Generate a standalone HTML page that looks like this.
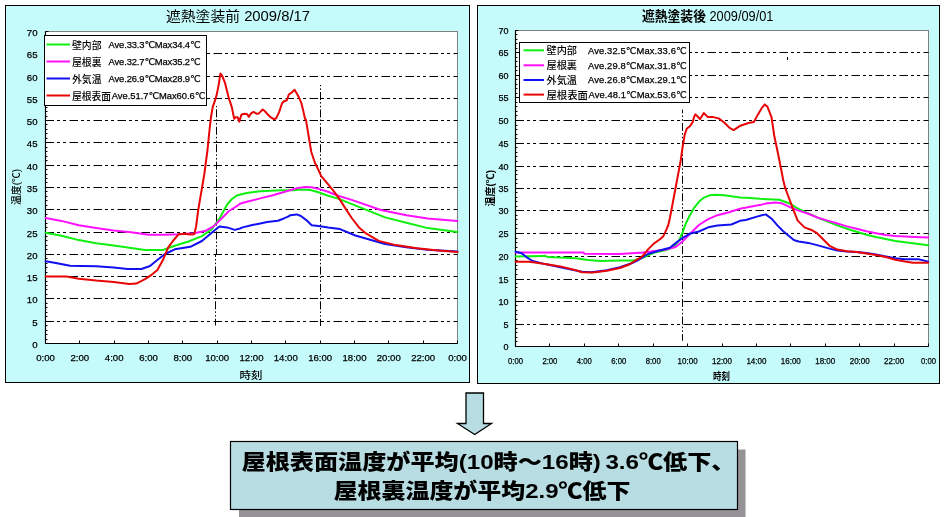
<!DOCTYPE html>
<html><head><meta charset="utf-8"><title>遮熱塗装 温度比較</title>
<style>
html,body{margin:0;padding:0;background:#fff;}
body{width:945px;height:517px;overflow:hidden;}
svg{display:block;font-family:'Liberation Sans','Noto Sans CJK JP',sans-serif;will-change:transform;}
.big{font-weight:900;}
.lg{font-weight:500;}
.ax{stroke:#000;stroke-width:0.25px;}
.lv{font-family:'Liberation Sans','DejaVu Sans','Noto Sans CJK JP',sans-serif;}
</style></head><body>
<svg width="945" height="517" viewBox="0 0 945 517">
<rect width="945" height="517" fill="#fff"/>
<rect x="5.5" y="5.5" width="464" height="377" fill="#C6FBFB" stroke="#000" stroke-width="1"/>
<rect x="45.5" y="31.5" width="412.0" height="312.0" fill="#fff" stroke="#808080" stroke-width="1"/>
<line x1="45.5" y1="321.5" x2="457.5" y2="321.5" stroke="#000" stroke-width="1" stroke-dasharray="8.5 3 3 3 3 3.5"/>
<line x1="45.5" y1="298.5" x2="457.5" y2="298.5" stroke="#000" stroke-width="1" stroke-dasharray="8.5 3 3 3 3 3.5"/>
<line x1="45.5" y1="276.5" x2="457.5" y2="276.5" stroke="#000" stroke-width="1" stroke-dasharray="8.5 3 3 3 3 3.5"/>
<line x1="45.5" y1="254.5" x2="457.5" y2="254.5" stroke="#000" stroke-width="1" stroke-dasharray="8.5 3 3 3 3 3.5"/>
<line x1="45.5" y1="232.5" x2="457.5" y2="232.5" stroke="#000" stroke-width="1" stroke-dasharray="8.5 3 3 3 3 3.5"/>
<line x1="45.5" y1="209.5" x2="457.5" y2="209.5" stroke="#000" stroke-width="1" stroke-dasharray="8.5 3 3 3 3 3.5"/>
<line x1="45.5" y1="187.5" x2="457.5" y2="187.5" stroke="#000" stroke-width="1" stroke-dasharray="8.5 3 3 3 3 3.5"/>
<line x1="45.5" y1="165.5" x2="457.5" y2="165.5" stroke="#000" stroke-width="1" stroke-dasharray="8.5 3 3 3 3 3.5"/>
<line x1="45.5" y1="142.5" x2="457.5" y2="142.5" stroke="#000" stroke-width="1" stroke-dasharray="8.5 3 3 3 3 3.5"/>
<line x1="45.5" y1="120.5" x2="457.5" y2="120.5" stroke="#000" stroke-width="1" stroke-dasharray="8.5 3 3 3 3 3.5"/>
<line x1="45.5" y1="98.5" x2="457.5" y2="98.5" stroke="#000" stroke-width="1" stroke-dasharray="8.5 3 3 3 3 3.5"/>
<line x1="45.5" y1="76.5" x2="457.5" y2="76.5" stroke="#000" stroke-width="1" stroke-dasharray="8.5 3 3 3 3 3.5"/>
<line x1="45.5" y1="53.5" x2="457.5" y2="53.5" stroke="#000" stroke-width="1" stroke-dasharray="8.5 3 3 3 3 3.5"/>
<line x1="216.5" y1="106" x2="216.5" y2="255" stroke="#000" stroke-width="1" stroke-dasharray="8 2.1 1.5 2.2 1.5 2.15" stroke-dashoffset="14.15"/>
<line x1="215.5" y1="255" x2="215.5" y2="325.5" stroke="#000" stroke-width="1" stroke-dasharray="8 2.1 1.5 2.2 1.5 2.15" stroke-dashoffset="163.15"/>
<line x1="320.5" y1="85" x2="320.5" y2="326" stroke="#000" stroke-width="1" stroke-dasharray="8 2.1 1.5 2.2 1.5 2.15" stroke-dashoffset="10.45"/>
<line x1="45.5" y1="31.5" x2="45.5" y2="343.5" stroke="#000" stroke-width="1.2"/>
<line x1="45.5" y1="343.5" x2="457.5" y2="343.5" stroke="#000" stroke-width="1.2"/>
<line x1="45.5" y1="343.5" x2="48.5" y2="343.5" stroke="#000" stroke-width="1"/>
<line x1="45.5" y1="339.5" x2="47.5" y2="339.5" stroke="#000" stroke-width="1"/>
<line x1="45.5" y1="334.5" x2="47.5" y2="334.5" stroke="#000" stroke-width="1"/>
<line x1="45.5" y1="330.5" x2="47.5" y2="330.5" stroke="#000" stroke-width="1"/>
<line x1="45.5" y1="325.5" x2="47.5" y2="325.5" stroke="#000" stroke-width="1"/>
<line x1="45.5" y1="321.5" x2="48.5" y2="321.5" stroke="#000" stroke-width="1"/>
<line x1="45.5" y1="316.5" x2="47.5" y2="316.5" stroke="#000" stroke-width="1"/>
<line x1="45.5" y1="312.5" x2="47.5" y2="312.5" stroke="#000" stroke-width="1"/>
<line x1="45.5" y1="307.5" x2="47.5" y2="307.5" stroke="#000" stroke-width="1"/>
<line x1="45.5" y1="303.5" x2="47.5" y2="303.5" stroke="#000" stroke-width="1"/>
<line x1="45.5" y1="298.5" x2="48.5" y2="298.5" stroke="#000" stroke-width="1"/>
<line x1="45.5" y1="294.5" x2="47.5" y2="294.5" stroke="#000" stroke-width="1"/>
<line x1="45.5" y1="289.5" x2="47.5" y2="289.5" stroke="#000" stroke-width="1"/>
<line x1="45.5" y1="285.5" x2="47.5" y2="285.5" stroke="#000" stroke-width="1"/>
<line x1="45.5" y1="281.5" x2="47.5" y2="281.5" stroke="#000" stroke-width="1"/>
<line x1="45.5" y1="276.5" x2="48.5" y2="276.5" stroke="#000" stroke-width="1"/>
<line x1="45.5" y1="272.5" x2="47.5" y2="272.5" stroke="#000" stroke-width="1"/>
<line x1="45.5" y1="267.5" x2="47.5" y2="267.5" stroke="#000" stroke-width="1"/>
<line x1="45.5" y1="263.5" x2="47.5" y2="263.5" stroke="#000" stroke-width="1"/>
<line x1="45.5" y1="258.5" x2="47.5" y2="258.5" stroke="#000" stroke-width="1"/>
<line x1="45.5" y1="254.5" x2="48.5" y2="254.5" stroke="#000" stroke-width="1"/>
<line x1="45.5" y1="249.5" x2="47.5" y2="249.5" stroke="#000" stroke-width="1"/>
<line x1="45.5" y1="245.5" x2="47.5" y2="245.5" stroke="#000" stroke-width="1"/>
<line x1="45.5" y1="240.5" x2="47.5" y2="240.5" stroke="#000" stroke-width="1"/>
<line x1="45.5" y1="236.5" x2="47.5" y2="236.5" stroke="#000" stroke-width="1"/>
<line x1="45.5" y1="232.5" x2="48.5" y2="232.5" stroke="#000" stroke-width="1"/>
<line x1="45.5" y1="227.5" x2="47.5" y2="227.5" stroke="#000" stroke-width="1"/>
<line x1="45.5" y1="223.5" x2="47.5" y2="223.5" stroke="#000" stroke-width="1"/>
<line x1="45.5" y1="218.5" x2="47.5" y2="218.5" stroke="#000" stroke-width="1"/>
<line x1="45.5" y1="214.5" x2="47.5" y2="214.5" stroke="#000" stroke-width="1"/>
<line x1="45.5" y1="209.5" x2="48.5" y2="209.5" stroke="#000" stroke-width="1"/>
<line x1="45.5" y1="205.5" x2="47.5" y2="205.5" stroke="#000" stroke-width="1"/>
<line x1="45.5" y1="200.5" x2="47.5" y2="200.5" stroke="#000" stroke-width="1"/>
<line x1="45.5" y1="196.5" x2="47.5" y2="196.5" stroke="#000" stroke-width="1"/>
<line x1="45.5" y1="191.5" x2="47.5" y2="191.5" stroke="#000" stroke-width="1"/>
<line x1="45.5" y1="187.5" x2="48.5" y2="187.5" stroke="#000" stroke-width="1"/>
<line x1="45.5" y1="182.5" x2="47.5" y2="182.5" stroke="#000" stroke-width="1"/>
<line x1="45.5" y1="178.5" x2="47.5" y2="178.5" stroke="#000" stroke-width="1"/>
<line x1="45.5" y1="174.5" x2="47.5" y2="174.5" stroke="#000" stroke-width="1"/>
<line x1="45.5" y1="169.5" x2="47.5" y2="169.5" stroke="#000" stroke-width="1"/>
<line x1="45.5" y1="165.5" x2="48.5" y2="165.5" stroke="#000" stroke-width="1"/>
<line x1="45.5" y1="160.5" x2="47.5" y2="160.5" stroke="#000" stroke-width="1"/>
<line x1="45.5" y1="156.5" x2="47.5" y2="156.5" stroke="#000" stroke-width="1"/>
<line x1="45.5" y1="151.5" x2="47.5" y2="151.5" stroke="#000" stroke-width="1"/>
<line x1="45.5" y1="147.5" x2="47.5" y2="147.5" stroke="#000" stroke-width="1"/>
<line x1="45.5" y1="142.5" x2="48.5" y2="142.5" stroke="#000" stroke-width="1"/>
<line x1="45.5" y1="138.5" x2="47.5" y2="138.5" stroke="#000" stroke-width="1"/>
<line x1="45.5" y1="133.5" x2="47.5" y2="133.5" stroke="#000" stroke-width="1"/>
<line x1="45.5" y1="129.5" x2="47.5" y2="129.5" stroke="#000" stroke-width="1"/>
<line x1="45.5" y1="124.5" x2="47.5" y2="124.5" stroke="#000" stroke-width="1"/>
<line x1="45.5" y1="120.5" x2="48.5" y2="120.5" stroke="#000" stroke-width="1"/>
<line x1="45.5" y1="116.5" x2="47.5" y2="116.5" stroke="#000" stroke-width="1"/>
<line x1="45.5" y1="111.5" x2="47.5" y2="111.5" stroke="#000" stroke-width="1"/>
<line x1="45.5" y1="107.5" x2="47.5" y2="107.5" stroke="#000" stroke-width="1"/>
<line x1="45.5" y1="102.5" x2="47.5" y2="102.5" stroke="#000" stroke-width="1"/>
<line x1="45.5" y1="98.5" x2="48.5" y2="98.5" stroke="#000" stroke-width="1"/>
<line x1="45.5" y1="93.5" x2="47.5" y2="93.5" stroke="#000" stroke-width="1"/>
<line x1="45.5" y1="89.5" x2="47.5" y2="89.5" stroke="#000" stroke-width="1"/>
<line x1="45.5" y1="84.5" x2="47.5" y2="84.5" stroke="#000" stroke-width="1"/>
<line x1="45.5" y1="80.5" x2="47.5" y2="80.5" stroke="#000" stroke-width="1"/>
<line x1="45.5" y1="76.5" x2="48.5" y2="76.5" stroke="#000" stroke-width="1"/>
<line x1="45.5" y1="71.5" x2="47.5" y2="71.5" stroke="#000" stroke-width="1"/>
<line x1="45.5" y1="66.5" x2="47.5" y2="66.5" stroke="#000" stroke-width="1"/>
<line x1="45.5" y1="62.5" x2="47.5" y2="62.5" stroke="#000" stroke-width="1"/>
<line x1="45.5" y1="58.5" x2="47.5" y2="58.5" stroke="#000" stroke-width="1"/>
<line x1="45.5" y1="53.5" x2="48.5" y2="53.5" stroke="#000" stroke-width="1"/>
<line x1="45.5" y1="49.5" x2="47.5" y2="49.5" stroke="#000" stroke-width="1"/>
<line x1="45.5" y1="44.5" x2="47.5" y2="44.5" stroke="#000" stroke-width="1"/>
<line x1="45.5" y1="40.5" x2="47.5" y2="40.5" stroke="#000" stroke-width="1"/>
<line x1="45.5" y1="35.5" x2="47.5" y2="35.5" stroke="#000" stroke-width="1"/>
<line x1="45.5" y1="31.5" x2="48.5" y2="31.5" stroke="#000" stroke-width="1"/>
<line x1="45.5" y1="343.5" x2="45.5" y2="340.5" stroke="#000" stroke-width="1"/>
<line x1="79.5" y1="343.5" x2="79.5" y2="340.5" stroke="#000" stroke-width="1"/>
<line x1="114.5" y1="343.5" x2="114.5" y2="340.5" stroke="#000" stroke-width="1"/>
<line x1="148.5" y1="343.5" x2="148.5" y2="340.5" stroke="#000" stroke-width="1"/>
<line x1="182.5" y1="343.5" x2="182.5" y2="340.5" stroke="#000" stroke-width="1"/>
<line x1="217.5" y1="343.5" x2="217.5" y2="340.5" stroke="#000" stroke-width="1"/>
<line x1="251.5" y1="343.5" x2="251.5" y2="340.5" stroke="#000" stroke-width="1"/>
<line x1="285.5" y1="343.5" x2="285.5" y2="340.5" stroke="#000" stroke-width="1"/>
<line x1="320.5" y1="343.5" x2="320.5" y2="340.5" stroke="#000" stroke-width="1"/>
<line x1="354.5" y1="343.5" x2="354.5" y2="340.5" stroke="#000" stroke-width="1"/>
<line x1="388.5" y1="343.5" x2="388.5" y2="340.5" stroke="#000" stroke-width="1"/>
<line x1="423.5" y1="343.5" x2="423.5" y2="340.5" stroke="#000" stroke-width="1"/>
<line x1="457.5" y1="343.5" x2="457.5" y2="340.5" stroke="#000" stroke-width="1"/>
<polyline points="45.7,232.7 61.4,235.7 78.8,240.1 96.2,243.2 113.7,245.6 131.1,247.9 145.0,250.0 163.2,249.9 174.8,245.8 188.4,241.5 201.9,236.1 211.6,229.4 219.4,218.7 227.1,204.5 232.0,199.0 236.8,195.5 246.6,193.0 260.3,191.3 280.6,190.3 294.1,190.3 300.9,189.4 310.4,190.0 318.5,192.3 328.0,195.7 337.4,198.4 342.6,200.4 363.8,208.9 385.1,217.4 406.4,222.8 427.7,228.1 457.4,231.9" fill="none" stroke="#10F010" stroke-width="2" stroke-linejoin="round" stroke-linecap="round"/>
<polyline points="45.7,217.9 61.4,220.9 78.8,225.3 96.2,227.9 113.7,230.5 131.1,232.2 148.5,234.8 164.0,234.8 178.7,234.2 194.2,233.2 205.8,230.7 213.5,226.4 221.3,218.7 229.0,211.0 236.8,206.1 240.0,203.8 246.8,201.8 260.3,198.4 273.8,195.0 287.4,191.0 298.2,187.9 305.0,186.9 311.7,187.3 318.5,188.9 328.0,191.7 337.4,195.5 353.2,200.4 380.9,210.0 406.4,215.3 427.7,218.5 457.4,221.1" fill="none" stroke="#FF10FF" stroke-width="2" stroke-linejoin="round" stroke-linecap="round"/>
<polyline points="45.7,261.3 54.4,262.7 70.1,265.8 96.2,266.2 113.7,267.6 127.6,269.0 141.5,269.0 150.0,266.0 157.3,260.0 165.0,254.0 174.8,249.3 190.3,246.8 201.9,241.0 213.5,231.3 219.4,226.4 227.1,227.4 234.8,229.9 240.0,228.5 242.6,227.4 252.3,225.0 260.3,223.5 267.1,222.1 277.9,220.7 283.3,218.7 288.0,216.7 290.1,215.3 296.8,214.4 300.9,216.0 306.3,220.1 311.7,225.2 318.5,225.9 328.0,227.5 340.0,229.1 355.3,235.5 370.2,239.8 385.1,244.0 406.4,247.2 427.7,249.8 457.4,251.5" fill="none" stroke="#1010F0" stroke-width="2" stroke-linejoin="round" stroke-linecap="round"/>
<polyline points="45.7,276.6 66.6,276.6 78.8,278.7 96.2,280.5 113.7,281.9 129.3,283.9 136.3,283.6 145.0,279.2 151.6,274.8 157.4,270.0 163.2,259.4 168.1,247.7 172.9,241.0 178.7,234.2 184.5,233.8 190.3,234.6 194.2,234.2 196.1,226.4 198.1,211.0 200.0,199.4 201.9,188.5 204.4,173.7 207.5,150.0 209.5,130.0 211.0,117.0 212.8,106.6 214.8,101.2 216.8,94.4 218.9,83.6 220.4,73.5 222.3,76.1 225.0,82.9 228.9,98.4 231.8,107.1 234.2,118.7 235.6,117.2 237.6,117.2 239.3,121.6 241.4,114.8 244.3,113.8 247.2,114.3 248.7,116.8 251.1,113.4 253.5,111.9 256.9,113.8 258.8,113.4 262.7,109.5 264.7,111.0 267.6,114.3 270.5,117.2 273.8,119.2 276.3,118.2 279.2,111.9 282.1,103.2 284.0,101.3 286.9,100.3 288.8,94.5 291.7,92.6 294.6,89.7 298.5,96.4 301.4,103.2 303.3,111.0 305.0,118.7 305.9,119.6 308.6,135.8 311.3,152.0 315.0,163.0 318.5,170.0 321.2,176.1 328.0,184.2 334.7,192.3 340.4,200.4 345.7,208.9 352.1,218.5 359.6,228.1 366.0,233.4 378.7,240.9 395.7,245.1 417.0,248.3 438.3,250.4 457.4,251.9" fill="none" stroke="#E80505" stroke-width="2" stroke-linejoin="round" stroke-linecap="round"/>
<text x="37.5" y="347.9" text-anchor="end" font-size="9.6" class="ax">0</text>
<text x="37.5" y="325.9" text-anchor="end" font-size="9.6" class="ax">5</text>
<text x="37.5" y="302.9" text-anchor="end" font-size="9.6" class="ax">10</text>
<text x="37.5" y="280.9" text-anchor="end" font-size="9.6" class="ax">15</text>
<text x="37.5" y="258.9" text-anchor="end" font-size="9.6" class="ax">20</text>
<text x="37.5" y="236.9" text-anchor="end" font-size="9.6" class="ax">25</text>
<text x="37.5" y="213.9" text-anchor="end" font-size="9.6" class="ax">30</text>
<text x="37.5" y="191.9" text-anchor="end" font-size="9.6" class="ax">35</text>
<text x="37.5" y="169.9" text-anchor="end" font-size="9.6" class="ax">40</text>
<text x="37.5" y="146.9" text-anchor="end" font-size="9.6" class="ax">45</text>
<text x="37.5" y="124.9" text-anchor="end" font-size="9.6" class="ax">50</text>
<text x="37.5" y="102.9" text-anchor="end" font-size="9.6" class="ax">55</text>
<text x="37.5" y="80.9" text-anchor="end" font-size="9.6" class="ax">60</text>
<text x="37.5" y="57.9" text-anchor="end" font-size="9.6" class="ax">65</text>
<text x="37.5" y="35.9" text-anchor="end" font-size="9.6" class="ax">70</text>
<text x="45.5" y="360.7" text-anchor="middle" font-size="9.6" class="ax">0:00</text>
<text x="79.8" y="360.7" text-anchor="middle" font-size="9.6" class="ax">2:00</text>
<text x="114.2" y="360.7" text-anchor="middle" font-size="9.6" class="ax">4:00</text>
<text x="148.5" y="360.7" text-anchor="middle" font-size="9.6" class="ax">6:00</text>
<text x="182.8" y="360.7" text-anchor="middle" font-size="9.6" class="ax">8:00</text>
<text x="217.2" y="360.7" text-anchor="middle" font-size="9.6" class="ax">10:00</text>
<text x="251.5" y="360.7" text-anchor="middle" font-size="9.6" class="ax">12:00</text>
<text x="285.8" y="360.7" text-anchor="middle" font-size="9.6" class="ax">14:00</text>
<text x="320.2" y="360.7" text-anchor="middle" font-size="9.6" class="ax">16:00</text>
<text x="354.5" y="360.7" text-anchor="middle" font-size="9.6" class="ax">18:00</text>
<text x="388.8" y="360.7" text-anchor="middle" font-size="9.6" class="ax">20:00</text>
<text x="423.2" y="360.7" text-anchor="middle" font-size="9.6" class="ax">22:00</text>
<text x="457.5" y="360.7" text-anchor="middle" font-size="9.6" class="ax">0:00</text>
<text x="166" y="20.5" font-size="14" font-weight="400" textLength="144" lengthAdjust="spacingAndGlyphs">遮熱塗装前 2009/8/17</text>
<text x="239.5" y="379" font-size="10" font-weight="500" textLength="23" lengthAdjust="spacingAndGlyphs">時刻</text>
<text transform="translate(20,205) rotate(-90)" font-size="10" font-weight="500" textLength="36" lengthAdjust="spacingAndGlyphs">温度(℃)</text>
<rect x="44.5" y="35.5" width="162" height="70" fill="#fff" stroke="#000" stroke-width="1"/>
<line x1="46.5" y1="44.5" x2="70" y2="44.5" stroke="#10F010" stroke-width="2"/>
<text x="72" y="48.5" font-size="10" font-weight="500" textLength="29.5" lengthAdjust="spacingAndGlyphs">壁内部</text>
<text x="108.5" y="47.9" font-size="9.4" class="ax lv" textLength="92" lengthAdjust="spacing">Ave.33.3℃Max34.4℃</text>
<line x1="46.5" y1="61.5" x2="70" y2="61.5" stroke="#FF10FF" stroke-width="2"/>
<text x="72" y="65.5" font-size="10" font-weight="500" textLength="29.5" lengthAdjust="spacingAndGlyphs">屋根裏</text>
<text x="108.5" y="64.9" font-size="9.4" class="ax lv" textLength="92" lengthAdjust="spacing">Ave.32.7℃Max35.2℃</text>
<line x1="46.5" y1="78.5" x2="70" y2="78.5" stroke="#1010F0" stroke-width="2"/>
<text x="72" y="82.5" font-size="10" font-weight="500" textLength="29.5" lengthAdjust="spacingAndGlyphs">外気温</text>
<text x="108.5" y="81.9" font-size="9.4" class="ax lv" textLength="92" lengthAdjust="spacing">Ave.26.9℃Max28.9℃</text>
<line x1="46.5" y1="95.5" x2="70" y2="95.5" stroke="#E80505" stroke-width="2"/>
<text x="72" y="99.5" font-size="10" font-weight="500" textLength="39" lengthAdjust="spacingAndGlyphs">屋根表面</text>
<text x="111.8" y="98.9" font-size="9.4" class="ax lv" textLength="93.5" lengthAdjust="spacing">Ave.51.7℃Max60.6℃</text>
<rect x="477.5" y="5.5" width="462" height="378" fill="#C6FBFB" stroke="#000" stroke-width="1"/>
<rect x="515.5" y="30.5" width="413.0" height="316.0" fill="#fff" stroke="#808080" stroke-width="1"/>
<line x1="515.5" y1="324.5" x2="928.5" y2="324.5" stroke="#000" stroke-width="1" stroke-dasharray="8.5 3 3 3 3 3.5"/>
<line x1="515.5" y1="301.5" x2="928.5" y2="301.5" stroke="#000" stroke-width="1" stroke-dasharray="8.5 3 3 3 3 3.5"/>
<line x1="515.5" y1="279.5" x2="928.5" y2="279.5" stroke="#000" stroke-width="1" stroke-dasharray="8.5 3 3 3 3 3.5"/>
<line x1="515.5" y1="256.5" x2="928.5" y2="256.5" stroke="#000" stroke-width="1" stroke-dasharray="8.5 3 3 3 3 3.5"/>
<line x1="515.5" y1="233.5" x2="928.5" y2="233.5" stroke="#000" stroke-width="1" stroke-dasharray="8.5 3 3 3 3 3.5"/>
<line x1="515.5" y1="210.5" x2="928.5" y2="210.5" stroke="#000" stroke-width="1" stroke-dasharray="8.5 3 3 3 3 3.5"/>
<line x1="515.5" y1="188.5" x2="928.5" y2="188.5" stroke="#000" stroke-width="1" stroke-dasharray="8.5 3 3 3 3 3.5"/>
<line x1="515.5" y1="166.5" x2="928.5" y2="166.5" stroke="#000" stroke-width="1" stroke-dasharray="8.5 3 3 3 3 3.5"/>
<line x1="515.5" y1="143.5" x2="928.5" y2="143.5" stroke="#000" stroke-width="1" stroke-dasharray="8.5 3 3 3 3 3.5"/>
<line x1="515.5" y1="120.5" x2="928.5" y2="120.5" stroke="#000" stroke-width="1" stroke-dasharray="8.5 3 3 3 3 3.5"/>
<line x1="515.5" y1="97.5" x2="928.5" y2="97.5" stroke="#000" stroke-width="1" stroke-dasharray="8.5 3 3 3 3 3.5"/>
<line x1="515.5" y1="75.5" x2="928.5" y2="75.5" stroke="#000" stroke-width="1" stroke-dasharray="8.5 3 3 3 3 3.5"/>
<line x1="515.5" y1="52.5" x2="928.5" y2="52.5" stroke="#000" stroke-width="1" stroke-dasharray="8.5 3 3 3 3 3.5"/>
<line x1="682.5" y1="109.7" x2="682.5" y2="340.7" stroke="#000" stroke-width="1" stroke-dasharray="8 2.2 1.5 2.2 1.5 2.2" stroke-dashoffset="4.4"/>
<line x1="515.5" y1="30.5" x2="515.5" y2="346.5" stroke="#000" stroke-width="1.2"/>
<line x1="515.5" y1="346.5" x2="928.5" y2="346.5" stroke="#000" stroke-width="1.2"/>
<line x1="515.5" y1="346.5" x2="518.5" y2="346.5" stroke="#000" stroke-width="1"/>
<line x1="515.5" y1="341.5" x2="517.5" y2="341.5" stroke="#000" stroke-width="1"/>
<line x1="515.5" y1="337.5" x2="517.5" y2="337.5" stroke="#000" stroke-width="1"/>
<line x1="515.5" y1="332.5" x2="517.5" y2="332.5" stroke="#000" stroke-width="1"/>
<line x1="515.5" y1="328.5" x2="517.5" y2="328.5" stroke="#000" stroke-width="1"/>
<line x1="515.5" y1="324.5" x2="518.5" y2="324.5" stroke="#000" stroke-width="1"/>
<line x1="515.5" y1="319.5" x2="517.5" y2="319.5" stroke="#000" stroke-width="1"/>
<line x1="515.5" y1="314.5" x2="517.5" y2="314.5" stroke="#000" stroke-width="1"/>
<line x1="515.5" y1="310.5" x2="517.5" y2="310.5" stroke="#000" stroke-width="1"/>
<line x1="515.5" y1="305.5" x2="517.5" y2="305.5" stroke="#000" stroke-width="1"/>
<line x1="515.5" y1="301.5" x2="518.5" y2="301.5" stroke="#000" stroke-width="1"/>
<line x1="515.5" y1="296.5" x2="517.5" y2="296.5" stroke="#000" stroke-width="1"/>
<line x1="515.5" y1="292.5" x2="517.5" y2="292.5" stroke="#000" stroke-width="1"/>
<line x1="515.5" y1="287.5" x2="517.5" y2="287.5" stroke="#000" stroke-width="1"/>
<line x1="515.5" y1="283.5" x2="517.5" y2="283.5" stroke="#000" stroke-width="1"/>
<line x1="515.5" y1="279.5" x2="518.5" y2="279.5" stroke="#000" stroke-width="1"/>
<line x1="515.5" y1="274.5" x2="517.5" y2="274.5" stroke="#000" stroke-width="1"/>
<line x1="515.5" y1="269.5" x2="517.5" y2="269.5" stroke="#000" stroke-width="1"/>
<line x1="515.5" y1="265.5" x2="517.5" y2="265.5" stroke="#000" stroke-width="1"/>
<line x1="515.5" y1="260.5" x2="517.5" y2="260.5" stroke="#000" stroke-width="1"/>
<line x1="515.5" y1="256.5" x2="518.5" y2="256.5" stroke="#000" stroke-width="1"/>
<line x1="515.5" y1="251.5" x2="517.5" y2="251.5" stroke="#000" stroke-width="1"/>
<line x1="515.5" y1="247.5" x2="517.5" y2="247.5" stroke="#000" stroke-width="1"/>
<line x1="515.5" y1="242.5" x2="517.5" y2="242.5" stroke="#000" stroke-width="1"/>
<line x1="515.5" y1="238.5" x2="517.5" y2="238.5" stroke="#000" stroke-width="1"/>
<line x1="515.5" y1="233.5" x2="518.5" y2="233.5" stroke="#000" stroke-width="1"/>
<line x1="515.5" y1="228.5" x2="517.5" y2="228.5" stroke="#000" stroke-width="1"/>
<line x1="515.5" y1="224.5" x2="517.5" y2="224.5" stroke="#000" stroke-width="1"/>
<line x1="515.5" y1="219.5" x2="517.5" y2="219.5" stroke="#000" stroke-width="1"/>
<line x1="515.5" y1="215.5" x2="517.5" y2="215.5" stroke="#000" stroke-width="1"/>
<line x1="515.5" y1="210.5" x2="518.5" y2="210.5" stroke="#000" stroke-width="1"/>
<line x1="515.5" y1="206.5" x2="517.5" y2="206.5" stroke="#000" stroke-width="1"/>
<line x1="515.5" y1="201.5" x2="517.5" y2="201.5" stroke="#000" stroke-width="1"/>
<line x1="515.5" y1="197.5" x2="517.5" y2="197.5" stroke="#000" stroke-width="1"/>
<line x1="515.5" y1="192.5" x2="517.5" y2="192.5" stroke="#000" stroke-width="1"/>
<line x1="515.5" y1="188.5" x2="518.5" y2="188.5" stroke="#000" stroke-width="1"/>
<line x1="515.5" y1="183.5" x2="517.5" y2="183.5" stroke="#000" stroke-width="1"/>
<line x1="515.5" y1="179.5" x2="517.5" y2="179.5" stroke="#000" stroke-width="1"/>
<line x1="515.5" y1="174.5" x2="517.5" y2="174.5" stroke="#000" stroke-width="1"/>
<line x1="515.5" y1="170.5" x2="517.5" y2="170.5" stroke="#000" stroke-width="1"/>
<line x1="515.5" y1="166.5" x2="518.5" y2="166.5" stroke="#000" stroke-width="1"/>
<line x1="515.5" y1="161.5" x2="517.5" y2="161.5" stroke="#000" stroke-width="1"/>
<line x1="515.5" y1="156.5" x2="517.5" y2="156.5" stroke="#000" stroke-width="1"/>
<line x1="515.5" y1="152.5" x2="517.5" y2="152.5" stroke="#000" stroke-width="1"/>
<line x1="515.5" y1="147.5" x2="517.5" y2="147.5" stroke="#000" stroke-width="1"/>
<line x1="515.5" y1="143.5" x2="518.5" y2="143.5" stroke="#000" stroke-width="1"/>
<line x1="515.5" y1="138.5" x2="517.5" y2="138.5" stroke="#000" stroke-width="1"/>
<line x1="515.5" y1="134.5" x2="517.5" y2="134.5" stroke="#000" stroke-width="1"/>
<line x1="515.5" y1="129.5" x2="517.5" y2="129.5" stroke="#000" stroke-width="1"/>
<line x1="515.5" y1="125.5" x2="517.5" y2="125.5" stroke="#000" stroke-width="1"/>
<line x1="515.5" y1="120.5" x2="518.5" y2="120.5" stroke="#000" stroke-width="1"/>
<line x1="515.5" y1="115.5" x2="517.5" y2="115.5" stroke="#000" stroke-width="1"/>
<line x1="515.5" y1="111.5" x2="517.5" y2="111.5" stroke="#000" stroke-width="1"/>
<line x1="515.5" y1="106.5" x2="517.5" y2="106.5" stroke="#000" stroke-width="1"/>
<line x1="515.5" y1="102.5" x2="517.5" y2="102.5" stroke="#000" stroke-width="1"/>
<line x1="515.5" y1="97.5" x2="518.5" y2="97.5" stroke="#000" stroke-width="1"/>
<line x1="515.5" y1="93.5" x2="517.5" y2="93.5" stroke="#000" stroke-width="1"/>
<line x1="515.5" y1="88.5" x2="517.5" y2="88.5" stroke="#000" stroke-width="1"/>
<line x1="515.5" y1="84.5" x2="517.5" y2="84.5" stroke="#000" stroke-width="1"/>
<line x1="515.5" y1="79.5" x2="517.5" y2="79.5" stroke="#000" stroke-width="1"/>
<line x1="515.5" y1="75.5" x2="518.5" y2="75.5" stroke="#000" stroke-width="1"/>
<line x1="515.5" y1="70.5" x2="517.5" y2="70.5" stroke="#000" stroke-width="1"/>
<line x1="515.5" y1="66.5" x2="517.5" y2="66.5" stroke="#000" stroke-width="1"/>
<line x1="515.5" y1="61.5" x2="517.5" y2="61.5" stroke="#000" stroke-width="1"/>
<line x1="515.5" y1="57.5" x2="517.5" y2="57.5" stroke="#000" stroke-width="1"/>
<line x1="515.5" y1="52.5" x2="518.5" y2="52.5" stroke="#000" stroke-width="1"/>
<line x1="515.5" y1="48.5" x2="517.5" y2="48.5" stroke="#000" stroke-width="1"/>
<line x1="515.5" y1="43.5" x2="517.5" y2="43.5" stroke="#000" stroke-width="1"/>
<line x1="515.5" y1="39.5" x2="517.5" y2="39.5" stroke="#000" stroke-width="1"/>
<line x1="515.5" y1="34.5" x2="517.5" y2="34.5" stroke="#000" stroke-width="1"/>
<line x1="515.5" y1="30.5" x2="518.5" y2="30.5" stroke="#000" stroke-width="1"/>
<line x1="515.5" y1="346.5" x2="515.5" y2="343.5" stroke="#000" stroke-width="1"/>
<line x1="549.5" y1="346.5" x2="549.5" y2="343.5" stroke="#000" stroke-width="1"/>
<line x1="584.5" y1="346.5" x2="584.5" y2="343.5" stroke="#000" stroke-width="1"/>
<line x1="618.5" y1="346.5" x2="618.5" y2="343.5" stroke="#000" stroke-width="1"/>
<line x1="653.5" y1="346.5" x2="653.5" y2="343.5" stroke="#000" stroke-width="1"/>
<line x1="687.5" y1="346.5" x2="687.5" y2="343.5" stroke="#000" stroke-width="1"/>
<line x1="722.5" y1="346.5" x2="722.5" y2="343.5" stroke="#000" stroke-width="1"/>
<line x1="756.5" y1="346.5" x2="756.5" y2="343.5" stroke="#000" stroke-width="1"/>
<line x1="790.5" y1="346.5" x2="790.5" y2="343.5" stroke="#000" stroke-width="1"/>
<line x1="825.5" y1="346.5" x2="825.5" y2="343.5" stroke="#000" stroke-width="1"/>
<line x1="859.5" y1="346.5" x2="859.5" y2="343.5" stroke="#000" stroke-width="1"/>
<line x1="894.5" y1="346.5" x2="894.5" y2="343.5" stroke="#000" stroke-width="1"/>
<line x1="928.5" y1="346.5" x2="928.5" y2="343.5" stroke="#000" stroke-width="1"/>
<polyline points="515.7,256.6 545.0,255.9 548.0,257.1 575.9,258.2 588.2,259.9 600.6,261.0 620.0,260.5 633.9,260.5 643.2,257.5 654.8,252.4 666.4,250.1 673.4,247.0 679.2,240.1 682.7,232.0 686.2,222.7 689.6,215.7 694.3,207.6 698.9,201.8 703.6,197.8 709.4,195.3 715.2,194.8 724.5,195.3 740.0,197.6 745.8,197.8 760.0,198.8 779.3,199.7 789.0,203.2 798.7,209.0 808.3,213.3 818.0,217.7 827.7,221.6 837.4,225.4 847.0,228.7 856.7,231.8 866.4,234.7 876.0,237.0 885.7,239.0 895.4,240.9 905.0,242.3 914.7,243.4 928.2,245.2" fill="none" stroke="#10F010" stroke-width="2" stroke-linejoin="round" stroke-linecap="round"/>
<polyline points="515.7,252.5 583.6,252.5 584.4,253.7 620.0,254.0 643.2,252.4 666.4,249.4 675.7,247.0 682.7,241.2 689.6,234.3 698.9,225.0 708.2,219.2 717.5,215.2 729.1,212.2 740.0,208.7 759.4,205.1 760.0,205.1 765.8,203.6 775.5,202.6 781.3,203.2 789.0,206.7 798.7,210.6 808.3,213.8 818.0,217.7 827.7,220.6 837.4,223.5 847.0,226.4 856.7,228.7 866.4,231.2 876.0,233.2 885.7,235.1 895.4,236.1 914.7,237.0 928.2,237.6" fill="none" stroke="#FF10FF" stroke-width="2" stroke-linejoin="round" stroke-linecap="round"/>
<polyline points="515.7,251.7 521.7,253.2 526.4,257.1 532.6,261.0 545.0,264.1 560.4,267.2 582.0,271.8 591.3,272.3 606.8,270.3 620.0,267.2 631.6,263.3 638.6,259.8 647.9,254.0 659.5,250.5 669.9,247.7 675.7,243.1 682.7,237.8 689.6,233.8 698.9,231.5 708.2,227.3 717.5,225.5 731.4,224.5 740.0,220.8 745.8,220.0 759.4,215.9 760.0,215.8 765.8,214.4 771.6,218.7 777.4,225.4 783.2,231.2 789.0,236.1 793.8,240.0 798.7,241.5 808.3,242.9 818.0,245.4 827.7,248.1 837.4,250.6 847.0,251.6 856.7,251.9 866.4,253.1 876.0,254.5 885.7,256.4 895.4,258.3 905.0,259.3 918.6,259.3 928.2,261.6" fill="none" stroke="#1010F0" stroke-width="2" stroke-linejoin="round" stroke-linecap="round"/>
<polyline points="515.7,261.8 529.5,261.8 545.0,264.1 560.4,266.4 575.9,270.3 582.0,272.3 592.9,272.6 606.8,270.7 620.0,268.0 629.3,264.5 638.6,258.7 641.0,257.5 644.5,254.0 648.0,249.4 653.8,243.6 659.6,239.5 663.1,236.6 664.8,233.1 666.6,229.1 668.3,225.0 669.9,218.0 673.4,199.5 676.9,180.9 680.8,160.0 682.6,147.0 684.7,134.8 686.7,128.7 690.1,126.0 692.8,121.9 694.2,116.5 695.5,114.4 697.6,116.5 700.0,119.2 703.8,113.0 707.9,117.1 713.3,117.1 718.7,118.4 724.2,122.5 729.6,127.9 733.6,130.1 740.4,125.7 748.5,123.0 753.9,122.0 758.0,114.4 762.1,107.6 764.8,104.4 767.5,106.8 771.5,117.1 774.3,136.0 778.3,155.0 781.0,168.5 783.2,180.0 785.1,187.7 788.0,195.5 790.9,203.2 793.8,210.9 797.7,220.6 804.5,227.4 812.2,230.3 817.0,233.2 823.8,240.0 829.6,245.8 837.4,249.6 847.0,251.2 856.7,251.9 866.4,253.5 876.0,255.0 885.7,257.0 895.4,259.7 905.0,261.6 912.8,262.8 928.2,262.8" fill="none" stroke="#E80505" stroke-width="2" stroke-linejoin="round" stroke-linecap="round"/>
<text x="508.5" y="349.9" text-anchor="end" font-size="9" class="ax">0</text>
<text x="508.5" y="327.9" text-anchor="end" font-size="9" class="ax">5</text>
<text x="508.5" y="304.9" text-anchor="end" font-size="9" class="ax">10</text>
<text x="508.5" y="282.9" text-anchor="end" font-size="9" class="ax">15</text>
<text x="508.5" y="259.9" text-anchor="end" font-size="9" class="ax">20</text>
<text x="508.5" y="236.9" text-anchor="end" font-size="9" class="ax">25</text>
<text x="508.5" y="213.9" text-anchor="end" font-size="9" class="ax">30</text>
<text x="508.5" y="191.9" text-anchor="end" font-size="9" class="ax">35</text>
<text x="508.5" y="169.9" text-anchor="end" font-size="9" class="ax">40</text>
<text x="508.5" y="146.9" text-anchor="end" font-size="9" class="ax">45</text>
<text x="508.5" y="123.9" text-anchor="end" font-size="9" class="ax">50</text>
<text x="508.5" y="100.9" text-anchor="end" font-size="9" class="ax">55</text>
<text x="508.5" y="78.9" text-anchor="end" font-size="9" class="ax">60</text>
<text x="508.5" y="55.9" text-anchor="end" font-size="9" class="ax">65</text>
<text x="508.5" y="33.9" text-anchor="end" font-size="9" class="ax">70</text>
<text x="515.5" y="364" text-anchor="middle" font-size="8.8" class="ax" textLength="15" lengthAdjust="spacingAndGlyphs">0:00</text>
<text x="549.9" y="364" text-anchor="middle" font-size="8.8" class="ax" textLength="15" lengthAdjust="spacingAndGlyphs">2:00</text>
<text x="584.3" y="364" text-anchor="middle" font-size="8.8" class="ax" textLength="15" lengthAdjust="spacingAndGlyphs">4:00</text>
<text x="618.8" y="364" text-anchor="middle" font-size="8.8" class="ax" textLength="15" lengthAdjust="spacingAndGlyphs">6:00</text>
<text x="653.2" y="364" text-anchor="middle" font-size="8.8" class="ax" textLength="15" lengthAdjust="spacingAndGlyphs">8:00</text>
<text x="687.6" y="364" text-anchor="middle" font-size="8.8" class="ax" textLength="20" lengthAdjust="spacingAndGlyphs">10:00</text>
<text x="722.0" y="364" text-anchor="middle" font-size="8.8" class="ax" textLength="20" lengthAdjust="spacingAndGlyphs">12:00</text>
<text x="756.4" y="364" text-anchor="middle" font-size="8.8" class="ax" textLength="20" lengthAdjust="spacingAndGlyphs">14:00</text>
<text x="790.8" y="364" text-anchor="middle" font-size="8.8" class="ax" textLength="20" lengthAdjust="spacingAndGlyphs">16:00</text>
<text x="825.2" y="364" text-anchor="middle" font-size="8.8" class="ax" textLength="20" lengthAdjust="spacingAndGlyphs">18:00</text>
<text x="859.7" y="364" text-anchor="middle" font-size="8.8" class="ax" textLength="20" lengthAdjust="spacingAndGlyphs">20:00</text>
<text x="894.1" y="364" text-anchor="middle" font-size="8.8" class="ax" textLength="20" lengthAdjust="spacingAndGlyphs">22:00</text>
<text x="928.5" y="364" text-anchor="middle" font-size="8.8" class="ax" textLength="15" lengthAdjust="spacingAndGlyphs">0:00</text>
<text x="642" y="21" font-size="14" font-weight="700" textLength="131.5" lengthAdjust="spacingAndGlyphs">遮熱塗装後 <tspan font-weight="400">2009/09/01</tspan></text>
<text x="713" y="380" font-size="10" font-weight="700" textLength="17" lengthAdjust="spacingAndGlyphs">時刻</text>
<text transform="translate(494,206.5) rotate(-90)" font-size="10" font-weight="700" textLength="36.5" lengthAdjust="spacingAndGlyphs">温度(℃)</text>
<rect x="519.5" y="42.5" width="170" height="60" fill="#fff" stroke="#000" stroke-width="1"/>
<line x1="523.5" y1="50.3" x2="544" y2="50.3" stroke="#10F010" stroke-width="2"/>
<text x="546.5" y="54.3" font-size="10" font-weight="500" textLength="30.5" lengthAdjust="spacingAndGlyphs">壁内部</text>
<text x="588" y="53.7" font-size="9.4" class="ax lv" textLength="98.5" lengthAdjust="spacing">Ave.32.5℃Max.33.6℃</text>
<line x1="523.5" y1="65.3" x2="544" y2="65.3" stroke="#FF10FF" stroke-width="2"/>
<text x="546.5" y="69.3" font-size="10" font-weight="500" textLength="30.5" lengthAdjust="spacingAndGlyphs">屋根裏</text>
<text x="588" y="68.7" font-size="9.4" class="ax lv" textLength="98.5" lengthAdjust="spacing">Ave.29.8℃Max.31.8℃</text>
<line x1="523.5" y1="80" x2="544" y2="80" stroke="#1010F0" stroke-width="2"/>
<text x="546.5" y="84.0" font-size="10" font-weight="500" textLength="30.5" lengthAdjust="spacingAndGlyphs">外気温</text>
<text x="588" y="83.4" font-size="9.4" class="ax lv" textLength="98.5" lengthAdjust="spacing">Ave.26.8℃Max.29.1℃</text>
<line x1="523.5" y1="94.6" x2="544" y2="94.6" stroke="#E80505" stroke-width="2"/>
<text x="546.5" y="98.6" font-size="10" font-weight="500" textLength="41.5" lengthAdjust="spacingAndGlyphs">屋根表面</text>
<text x="588.5" y="98.0" font-size="9.4" class="ax lv" textLength="98" lengthAdjust="spacing">Ave.48.1℃Max.53.6℃</text>
<line x1="787.5" y1="57" x2="787.5" y2="60" stroke="#000" stroke-width="1"/>
<polygon points="466,393 483.5,393 483.5,423.5 491.5,423.5 474.7,434.5 457.5,423.5 466,423.5" fill="#B7DCE1" stroke="#000" stroke-width="1.3" stroke-linejoin="miter"/>
<rect x="239" y="449.5" width="506.5" height="70" fill="#949294"/>
<rect x="230.5" y="441.5" width="507" height="68" fill="#B7DCE1" stroke="#000" stroke-width="1.2"/>
<text x="241.5" y="469" font-size="21" class="big" textLength="494" lengthAdjust="spacingAndGlyphs">屋根表面温度が平均(10時～16時)<tspan dx="4">3.6℃低下、</tspan></text>
<text x="333.5" y="498" font-size="21" class="big" textLength="297" lengthAdjust="spacingAndGlyphs">屋根裏温度が平均2.9℃低下</text>
</svg>
</body></html>
